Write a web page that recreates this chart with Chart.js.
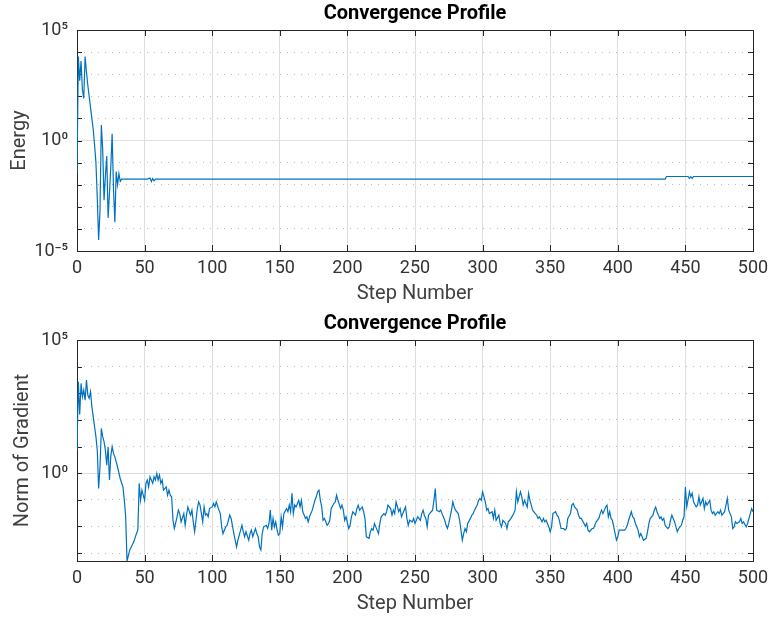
<!DOCTYPE html>
<html>
<head>
<meta charset="utf-8">
<script src="https://cdn.jsdelivr.net/npm/chart.js@4.4.1/dist/chart.umd.min.js"></script>
<style>
  body { margin: 0; background: #fff; }
  canvas { display: block; }
</style>
</head>
<body>
<canvas id="energyChart" width="769" height="310"></canvas>
<canvas id="gradientChart" width="769" height="310"></canvas>
<script>
// step number / log10(value) pairs for each trace
const energySteps = [
  0, 1, 2, 3, 4, 5, 6, 7, 8, 9,
  10, 11, 12, 13, 14, 15, 16, 17, 18, 19,
  20, 21, 22, 23, 24, 25, 26, 27, 28, 29,
  30, 31, 32, 33, 52, 54, 55, 56, 57, 58,
  60, 435, 436, 452, 453, 454, 455, 456, 500
];
const energyExp = [
  -1.5, 3.8, 2.7, 3.6, 2.3, 1.9, 3.8, 3.1, 2.5, 2.0,
  1.5, 1.0, 0.5, -0.2, -1.0, -2.6, -4.5, -3.2, 0.7, -0.4,
  -2.7, -1.6, -0.7, -3.5, -2.4, -1.2, 0.3, -2.2, -3.7, -1.4,
  -2.0, -1.5, -1.85, -1.75, -1.75, -1.7, -1.85, -1.72, -1.82, -1.75,
  -1.75, -1.75, -1.63, -1.63, -1.72, -1.63, -1.72, -1.63, -1.63
];

const gradSteps = [
  0, 1, 2, 3, 4, 5, 6, 7, 8, 9,
  10, 11, 12, 13, 14, 15, 16, 17, 18, 19,
  20, 21, 22, 23, 24, 25, 26, 27, 28, 29,
  30, 32, 34, 35, 36, 37, 39, 42, 44, 45,
  46, 47, 48, 50, 51, 52, 53, 54, 56, 57,
  58, 59, 60, 61, 62, 63, 64, 66, 67, 68,
  69, 70, 71, 72, 74, 75, 76, 77, 79, 80,
  81, 82, 84, 85, 86, 87, 88, 89, 90, 91,
  93, 94, 95, 96, 97, 98, 100, 101, 102, 103,
  105, 106, 107, 108, 110, 111, 112, 113, 114, 116,
  117, 118, 119, 121, 122, 123, 124, 125, 127, 128,
  129, 130, 132, 133, 134, 135, 136, 137, 138, 140,
  141, 142, 143, 144, 145, 146, 147, 148, 149, 150,
  151, 152, 153, 155, 156, 157, 158, 159, 160, 161,
  162, 164, 165, 166, 167, 169, 170, 171, 172, 174,
  175, 176, 177, 178, 179, 180, 181, 182, 183, 185,
  186, 187, 188, 190, 191, 192, 193, 195, 196, 197,
  198, 199, 201, 202, 203, 204, 206, 207, 208, 209,
  211, 212, 213, 214, 216, 217, 218, 219, 220, 222,
  223, 224, 225, 227, 228, 229, 230, 232, 233, 234,
  235, 236, 238, 239, 240, 241, 243, 244, 245, 246,
  248, 249, 250, 251, 252, 254, 255, 256, 257, 258,
  259, 260, 262, 263, 264, 265, 266, 268, 269, 270,
  272, 273, 274, 275, 277, 278, 279, 280, 282, 283,
  284, 285, 286, 287, 288, 289, 291, 292, 293, 294,
  296, 297, 298, 299, 300, 302, 303, 304, 305, 307,
  308, 309, 310, 312, 313, 314, 315, 317, 318, 319,
  320, 321, 323, 324, 325, 326, 328, 329, 330, 331,
  333, 334, 335, 336, 337, 339, 340, 341, 342, 344,
  345, 346, 347, 349, 350, 351, 352, 354, 355, 356,
  357, 358, 360, 361, 362, 363, 365, 366, 367, 368,
  370, 371, 372, 373, 375, 376, 377, 378, 379, 381,
  382, 383, 384, 386, 387, 388, 389, 391, 392, 393,
  394, 395, 396, 397, 399, 400, 401, 402, 403, 405,
  406, 407, 408, 410, 411, 412, 413, 415, 416, 417,
  418, 419, 421, 422, 423, 424, 426, 427, 428, 429,
  431, 432, 433, 434, 435, 437, 438, 439, 440, 442,
  443, 444, 445, 447, 448, 449, 450, 451, 453, 454,
  455, 456, 458, 459, 460, 461, 463, 464, 465, 466,
  468, 469, 470, 471, 472, 474, 475, 476, 477, 479,
  480, 481, 482, 484, 485, 486, 487, 488, 490, 491,
  492, 493, 495, 496, 497, 498, 499, 500
];
const gradExp = [
  0.86, 3.43, 2.2, 3.37, 2.87, 3.12, 2.74, 3.5, 2.93, 2.81,
  3.06, 2.49, 2.12, 1.74, 1.37, 0.86, -0.58, 0.23, 1.68, 1.37,
  1.18, 0.86, 0.3, 0.99, -0.26, 0.64, 0.99, 0.74, 0.61, 0.42,
  0.23, -0.21, -0.52, -1.02, -1.64, -3.3, -2.89, -2.58, -2.27, -2.14,
  -0.38, -1.02, -0.64, -1.02, -0.38, -0.26, -0.52, -0.14, -0.38, -0.14,
  -0.26, -0.01, -0.26, -0.07, -0.38, -0.26, -0.64, -0.52, -0.83, -0.64,
  -0.83, -0.89, -1.77, -2.08, -1.64, -1.39, -1.52, -1.83, -1.52, -1.96,
  -1.58, -1.27, -1.58, -1.39, -1.83, -2.2, -1.77, -1.33, -1.08, -1.2,
  -1.83, -1.27, -1.58, -1.52, -1.64, -1.33, -1.27, -1.14, -1.27, -1.08,
  -1.39, -1.52, -2.02, -2.27, -2.02, -1.96, -1.77, -1.58, -1.7, -2.27,
  -2.52, -2.77, -2.52, -2.14, -1.96, -2.2, -2.39, -2.2, -2.52, -2.27,
  -2.14, -2.39, -2.08, -2.27, -2.39, -2.77, -2.89, -2.27, -2.02, -1.96,
  -2.08, -1.89, -1.39, -2.14, -1.7, -2.02, -1.83, -2.14, -2.33, -2.27,
  -1.64, -2.02, -1.52, -1.33, -1.45, -1.2, -1.45, -0.76, -1.52, -1.2,
  -1.27, -1.02, -1.27, -1.02, -1.45, -1.7, -1.64, -1.83, -1.64, -1.39,
  -1.2, -1.02, -0.89, -0.7, -0.64, -1.02, -1.27, -1.77, -1.7, -1.96,
  -1.89, -1.77, -1.33, -1.14, -1.08, -0.83, -1.02, -1.33, -1.2, -1.39,
  -1.77, -1.64, -2.08, -1.96, -1.64, -1.45, -1.58, -1.33, -1.2, -1.39,
  -1.27, -1.45, -1.7, -2.39, -2.45, -2.2, -2.08, -2.14, -1.89, -2.14,
  -2.27, -1.89, -1.64, -1.52, -1.58, -1.45, -1.2, -1.33, -1.58, -1.39,
  -1.52, -1.08, -1.45, -1.33, -1.64, -1.52, -1.27, -1.7, -1.96, -1.77,
  -1.83, -1.7, -1.89, -1.77, -1.64, -1.77, -1.52, -1.39, -1.6, -1.7,
  -2.02, -1.58, -1.45, -1.39, -1.02, -0.58, -1.39, -1.45, -1.39, -1.52,
  -1.77, -1.96, -2.08, -1.89, -1.39, -1.08, -1.27, -1.39, -1.52, -1.77,
  -2.14, -2.52, -2.27, -2.08, -2.2, -1.89, -1.7, -1.58, -1.52, -1.39,
  -1.2, -1.02, -0.95, -1.02, -0.7, -1.08, -1.39, -1.33, -1.52, -1.45,
  -1.7, -1.39, -1.77, -1.58, -1.89, -2.02, -1.77, -1.89, -2.08, -1.83,
  -1.77, -1.7, -1.52, -1.39, -0.7, -1.08, -0.7, -0.89, -1.2, -1.02,
  -1.27, -0.76, -1.02, -1.2, -1.39, -1.52, -1.58, -1.7, -1.64, -1.83,
  -1.7, -1.83, -1.77, -2.02, -2.2, -2.02, -1.52, -1.45, -1.58, -1.64,
  -1.83, -2.08, -2.08, -2.14, -2.08, -1.7, -1.52, -1.2, -1.14, -1.27,
  -1.39, -1.58, -1.7, -1.7, -1.89, -2.0, -1.89, -2.14, -2.2, -2.08,
  -2.08, -1.96, -1.83, -1.7, -1.52, -1.39, -1.52, -1.27, -1.2, -1.64,
  -1.45, -1.7, -1.77, -2.02, -2.52, -2.39, -2.14, -2.14, -2.14, -2.14,
  -2.08, -1.96, -1.77, -1.45, -1.64, -1.7, -1.89, -2.14, -2.39, -2.27,
  -2.39, -2.52, -2.45, -2.2, -1.89, -1.7, -1.58, -1.39, -1.27, -1.45,
  -1.7, -1.64, -1.77, -1.7, -1.96, -2.08, -2.02, -1.77, -1.58, -1.83,
  -2.02, -2.2, -2.08, -1.96, -1.77, -1.64, -0.52, -1.27, -0.7, -0.89,
  -0.76, -1.08, -1.27, -1.2, -0.89, -1.2, -0.95, -1.33, -1.08, -1.2,
  -1.02, -1.39, -1.52, -1.45, -1.58, -1.45, -1.52, -1.39, -1.58, -1.45,
  -1.2, -0.95, -1.39, -1.64, -2.08, -2.02, -1.83, -1.89, -1.83, -1.7,
  -1.89, -1.83, -2.02, -1.89, -1.7, -1.52, -1.33, -1.45
];

// axis ticks
const stepTicks = [0, 50, 100, 150, 200, 250, 300, 350, 400, 450, 500];
const energyDecades = [-5, -4, -3, -2, -1, 0, 1, 2, 3, 4, 5];
const gradDecades = [-3, -2, -1, 0, 1, 2, 3, 4, 5];
const labelledDecades = [-5, 0, 5];

const FONT = 'Roboto, "Liberation Sans", sans-serif';
const LINE_BLUE = '#0072BD';
const AXIS_DARK = '#262626';

const SUP = {'0': '⁰', '1': '¹', '2': '²', '3': '³', '4': '⁴', '5': '⁵',
             '6': '⁶', '7': '⁷', '8': '⁸', '9': '⁹', '-': '⁻'};
const powerLabel = e => '10' + String(e).split('').map(c => SUP[c]).join('');
const decadeOf = v => Math.round(Math.log10(v));

// axes box plus inward tick marks
const boxAndTicks = {
  id: 'boxAndTicks',
  beforeDatasetsDraw(chart) {
    const {ctx, chartArea: a, scales: {x, y}} = chart;
    ctx.save();
    ctx.strokeStyle = AXIS_DARK;
    ctx.lineWidth = 1;
    ctx.beginPath();
    x.ticks.forEach(t => {
      const px = Math.round(x.getPixelForValue(t.value)) + 0.5;
      ctx.moveTo(px, a.bottom); ctx.lineTo(px, a.bottom - 6);
      ctx.moveTo(px, a.top); ctx.lineTo(px, a.top + 6);
    });
    y.ticks.forEach(t => {
      const py = Math.round(y.getPixelForValue(t.value)) + 0.5;
      ctx.moveTo(a.left, py); ctx.lineTo(a.left + 5, py);
      ctx.moveTo(a.right, py); ctx.lineTo(a.right - 5, py);
    });
    ctx.stroke();
    ctx.strokeRect(a.left + 0.5, a.top + 0.5, a.right - a.left, a.bottom - a.top);
    ctx.restore();
  }
};

function makeChart(id, steps, exps, yLabel, yMinExp, decades, yTitlePad) {
  const points = steps.map((s, i) => ({x: s, y: Math.pow(10, exps[i])}));
  return new Chart(document.getElementById(id).getContext('2d'), {
    type: 'line',
    data: {
      datasets: [{
        data: points,
        borderColor: LINE_BLUE,
        borderWidth: 1.2,
        pointRadius: 0,
        tension: 0,
        fill: false
      }]
    },
    options: {
      responsive: false,
      animation: false,
      events: [],
      layout: {padding: {top: 0, left: 0, right: 16, bottom: 0}},
      plugins: {
        legend: {display: false},
        tooltip: {enabled: false},
        title: {
          display: true,
          text: 'Convergence Profile',
          fullSize: false,
          color: '#000',
          font: {family: FONT, size: 20, weight: 'bold'},
          padding: {top: 2, bottom: 4}
        }
      },
      scales: {
        x: {
          type: 'linear',
          min: 0,
          max: 500,
          afterBuildTicks: scale => { scale.ticks = stepTicks.map(v => ({value: v})); },
          afterFit: scale => {
            scale.height = 59;
            scale.paddingLeft = 0;
            scale.paddingRight = 0;
          },
          ticks: {
            autoSkip: false,
            maxRotation: 0,
            padding: 7,
            color: '#333',
            font: {family: FONT, size: 18}
          },
          grid: {drawTicks: false, color: '#dedede', lineWidth: 1},
          border: {display: false},
          title: {
            display: true,
            text: 'Step Number',
            color: '#404040',
            font: {family: FONT, size: 20},
            padding: {top: 0, bottom: 4}
          }
        },
        y: {
          type: 'logarithmic',
          min: Math.pow(10, yMinExp),
          max: 1e5,
          afterBuildTicks: scale => {
            scale.ticks = decades.map(e => ({value: Math.pow(10, e)}));
          },
          afterFit: scale => { scale.width = 77; },
          ticks: {
            autoSkip: false,
            padding: 9,
            color: '#333',
            font: {family: FONT, size: 18},
            callback: v => labelledDecades.includes(decadeOf(v)) ? powerLabel(decadeOf(v)) : ''
          },
          grid: {
            drawTicks: false,
            lineWidth: 1,
            color: c => (c.tick && labelledDecades.includes(decadeOf(c.tick.value))) ? '#dedede' : '#bababa'
          },
          border: {
            display: false,
            dash: c => (c.tick && !labelledDecades.includes(decadeOf(c.tick.value))) ? [1, 6] : []
          },
          title: {
            display: true,
            text: yLabel,
            color: '#404040',
            font: {family: FONT, size: 20},
            padding: {top: yTitlePad, bottom: 0}
          }
        }
      }
    },
    plugins: [boxAndTicks]
  });
}

makeChart('energyChart', energySteps, energyExp, 'Energy', -5, energyDecades, 8);
makeChart('gradientChart', gradSteps, gradExp, 'Norm of Gradient', -3.3, gradDecades, 11);
</script>
</body>
</html>
